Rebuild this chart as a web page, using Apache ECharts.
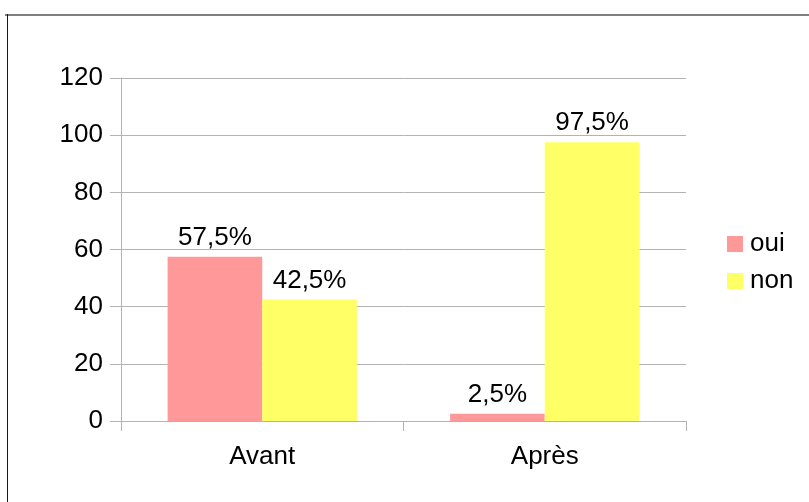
<!DOCTYPE html>
<html>
<head>
<meta charset="utf-8">
<script src="https://cdn.jsdelivr.net/npm/echarts@6/dist/echarts.min.js"></script>
<style>
html,body{margin:0;padding:0;background:#fff;}
#chart{width:809px;height:502px;}
</style>
</head>
<body>
<div id="chart"></div>
<script>
const categories = ['Avant', 'Après'];
const seriesNames = ['oui', 'non'];
const ouiValues = [57.5, 2.5];
const nonValues = [42.5, 97.5];
const yTicks = [0, 20, 40, 60, 80, 100, 120];

const chart = echarts.init(document.getElementById('chart'), null, {renderer: 'canvas'});
const font = 'Liberation Sans, Arial, sans-serif';
const FS = 26;
const lbl = {
  show: true, position: 'top', distance: 6,
  fontFamily: font, fontSize: FS, color: '#000',
  formatter: p => String(p.value).replace('.', ',') + '%'
};
chart.setOption({
  animation: false,
  backgroundColor: '#fff',
  textStyle: {fontFamily: font},
  graphic: [
    {type: 'line', shape: {x1: 5, y1: 15, x2: 809, y2: 15}, style: {stroke: '#808080', lineWidth: 2}, silent: true},
    {type: 'line', shape: {x1: 7.5, y1: 14, x2: 7.5, y2: 502}, style: {stroke: '#1a1a1a', lineWidth: 1}, silent: true}
  ],
  grid: {left: 121, right: 123, top: 78, bottom: 81, containLabel: false},
  legend: {
    orient: 'vertical', left: 727, top: 231, padding: 0,
    itemWidth: 16, itemHeight: 16, itemGap: 11,
    icon: 'rect',
    textStyle: {fontFamily: font, fontSize: FS, color: '#000', padding: [0, 0, 0, 2]},
    data: seriesNames
  },
  xAxis: {
    type: 'category', data: categories,
    axisLine: {show: true, lineStyle: {color: '#b3b3b3', width: 1}},
    axisTick: {show: true, alignWithLabel: false, length: 10, lineStyle: {color: '#b3b3b3'}},
    axisLabel: {fontFamily: font, fontSize: FS, color: '#000', margin: 23},
    splitLine: {show: false}
  },
  yAxis: {
    type: 'value', min: yTicks[0], max: yTicks[yTicks.length - 1], interval: 20,
    axisLine: {show: true, lineStyle: {color: '#b3b3b3', width: 1}},
    axisTick: {show: true, length: 11, lineStyle: {color: '#b3b3b3'}},
    axisLabel: {fontFamily: font, fontSize: FS, color: '#000', margin: 18},
    splitLine: {show: true, lineStyle: {color: '#b3b3b3', width: 1}}
  },
  series: [
    {name: seriesNames[0], type: 'bar', data: ouiValues, itemStyle: {color: '#ff9999'},
     barGap: '0%', barCategoryGap: '33%', label: lbl},
    {name: seriesNames[1], type: 'bar', data: nonValues, itemStyle: {color: '#ffff66'},
     barGap: '0%', barCategoryGap: '33%', label: lbl}
  ]
});
</script>
</body>
</html>
